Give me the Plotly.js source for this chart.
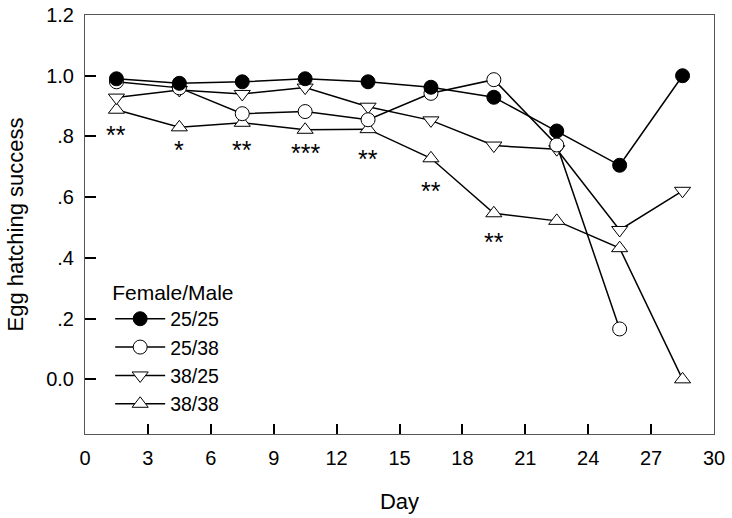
<!DOCTYPE html>
<html>
<head>
<meta charset="utf-8">
<script src="https://cdn.plot.ly/plotly-3.0.1.min.js"></script>
<style>html,body{margin:0;padding:0;background:#fff;}#chart{width:732px;height:518px;}</style>
</head>
<body>
<div id="chart"></div>
<script>
const days = [1.5, 4.5, 7.5, 10.5, 13.5, 16.5, 19.5, 22.5, 25.5, 28.5];
const f25m25 = [0.99, 0.975, 0.98, 0.99, 0.98, 0.962, 0.929, 0.818, 0.705, 1.0];
const f25m38 = [0.98, 0.96, 0.875, 0.882, 0.855, 0.942, 0.987, 0.772, 0.166];
const f38m25 = [0.928, 0.953, 0.94, 0.961, 0.898, 0.853, 0.77, 0.758, 0.492, 0.621];
const f38m38 = [0.888, 0.83, 0.845, 0.822, 0.824, 0.728, 0.547, 0.522, 0.432, 0.0];
const seriesNames = ["25/25", "25/38", "38/25", "38/38"];
const sigDays = [1.5, 4.5, 7.5, 10.5, 13.5, 16.5, 19.5];
const sigLabels = ["**", "*", "**", "***", "**", "**", "**"];
const sigY = [0.804, 0.757, 0.757, 0.747, 0.726, 0.62, 0.452];
const yTickVals = [0, 0.2, 0.4, 0.6, 0.8, 1.0, 1.2];
const yTickText = ["0.0", ".2", ".4", ".6", ".8", "1.0", "1.2"];
const xTickVals = [0, 3, 6, 9, 12, 15, 18, 21, 24, 27, 30];

const font = "Liberation Sans, Arial, sans-serif";
function mk(y, name, symbol, fill) {
  return {
    x: days.slice(0, y.length), y: y, name: name, type: "scatter", mode: "lines+markers",
    line: {color: "#000", width: 1.5},
    marker: {symbol: symbol, size: 14, color: fill, line: {color: "#000", width: 1}},
    cliponaxis: false
  };
}
const traces = [
  mk(f38m38, seriesNames[3], "triangle-up", "#fff"),
  mk(f38m25, seriesNames[2], "triangle-down", "#fff"),
  mk(f25m38, seriesNames[1], "circle", "#fff"),
  mk(f25m25, seriesNames[0], "circle", "#000")
];
const annotations = sigDays.map((d, i) => ({
  x: d, y: sigY[i], xref: "x", yref: "y", text: sigLabels[i], showarrow: false,
  font: {family: font, size: 25, color: "#000"}, xanchor: "center", yanchor: "middle"
}));
const layout = {
  width: 732, height: 518,
  margin: {l: 85, r: 18, t: 15, b: 84},
  paper_bgcolor: "#fff", plot_bgcolor: "#fff",
  font: {family: font, size: 20, color: "#000"},
  showlegend: true,
  legend: {
    x: 0.04, y: 0.386, xanchor: "left", yanchor: "top",
    traceorder: "reversed",
    bgcolor: "rgba(0,0,0,0)",
    font: {family: font, size: 19.5},
    title: {text: "Female/Male", font: {family: font, size: 21}},
    itemwidth: 50, tracegroupgap: 0
  },
  xaxis: {
    range: [0, 30], tickvals: xTickVals, ticks: "inside", ticklen: 10, tickwidth: 2, tickcolor: "#000",
    showline: true, linecolor: "#555", linewidth: 1, mirror: true, showgrid: false, zeroline: false,
    tickfont: {family: font, size: 20}, ticklabelstandoff: 6,
    title: {text: "Day", font: {family: font, size: 22}, standoff: 25}
  },
  yaxis: {
    range: [-0.18, 1.2], tickvals: yTickVals, ticktext: yTickText, ticks: "inside", ticklen: 11, tickwidth: 2, tickcolor: "#000",
    showline: true, linecolor: "#555", linewidth: 1, mirror: true, showgrid: false, zeroline: false,
    tickfont: {family: font, size: 20}, ticklabelstandoff: 6,
    title: {text: "Egg hatching success", font: {family: font, size: 22}, standoff: 16}
  },
  annotations: annotations
};
Plotly.newPlot("chart", traces, layout, {displayModeBar: false, staticPlot: true});
</script>
</body>
</html>
